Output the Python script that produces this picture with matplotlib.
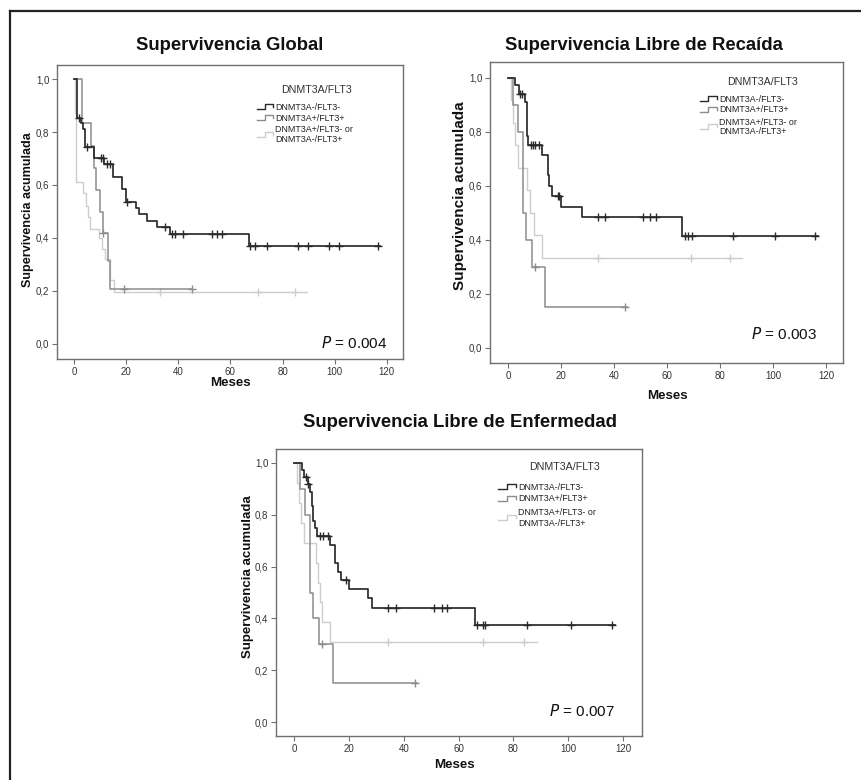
import numpy as np
import matplotlib
matplotlib.use("Agg")
import matplotlib.pyplot as plt
from matplotlib.lines import Line2D

plt.rcParams['font.family'] = ['Liberation Sans', 'DejaVu Sans']

# ---------------- DATA ----------------
group_labels = ["DNMT3A-/FLT3-", "DNMT3A+/FLT3+", "DNMT3A+/FLT3- or\nDNMT3A-/FLT3+"]
legend_title = "DNMT3A/FLT3"
panel_titles = ["Supervivencia Global", "Supervivencia Libre de Recaída",
                "Supervivencia Libre de Enfermedad"]
p_values = ["0.004", "0.003", "0.007"]
x_ticks = [0, 20, 40, 60, 80, 100, 120]
y_ticks = [0.0, 0.2, 0.4, 0.6, 0.8, 1.0]
y_tick_labels = ["0,0", "0,2", "0,4", "0,6", "0,8", "1,0"]

# Global survival
g_black_t = [0, 1.3, 2.6, 3.6, 4.2, 7.8, 11.5, 15.0, 18.3, 19.9, 23.8, 24.8, 28.1, 31.8, 37.0, 67.0]
g_black_s = [1.0, 0.853, 0.834, 0.812, 0.742, 0.700, 0.679, 0.631, 0.585, 0.537, 0.514, 0.489, 0.464, 0.440, 0.415, 0.368]
g_black_end = 117.4
g_black_c = [1.9, 5.1, 10.2, 11.3, 12.8, 14.0, 20.2, 34.9, 37.7, 38.7, 41.7, 52.8, 54.7, 56.9,
             67.5, 69.4, 73.9, 85.8, 89.9, 97.8, 101.7, 116.5]

g_mid_t = [0, 3.2, 6.4, 7.6, 8.5, 9.8, 11.1, 13.1, 14.0]
g_mid_s = [1.0, 0.835, 0.747, 0.665, 0.581, 0.499, 0.418, 0.3125, 0.208]
g_mid_end = 45.1
g_mid_c = [11.1, 19.2, 45.1]

g_light_t = [0, 0.4, 0.9, 3.3, 4.6, 5.5, 6.2, 9.7, 10.6, 12.0, 14.0, 15.5]
g_light_s = [1.0, 0.87, 0.613, 0.57, 0.52, 0.48, 0.435, 0.40, 0.36, 0.32, 0.24, 0.195]
g_light_end = 89.3
g_light_c = [33.0, 70.7, 84.8]

# Relapse-free survival
r_black_t = [0, 2.6, 4.0, 6.5, 7.0, 7.6, 12.8, 14.9, 15.6, 16.6, 20.0, 27.9, 65.7]
r_black_s = [1.0, 0.975, 0.94, 0.91, 0.785, 0.75, 0.715, 0.64, 0.60, 0.563, 0.523, 0.484, 0.415]
r_black_end = 116.9
r_black_c = [4.4, 5.3, 8.5, 9.6, 10.1, 11.8, 18.7, 19.4, 34.0, 36.7, 50.8, 53.7, 55.7,
             66.6, 68.1, 69.3, 84.8, 100.6, 116.0]

r_mid_t = [0, 1.9, 3.9, 5.8, 6.8, 8.9, 14.0]
r_mid_s = [1.0, 0.9, 0.8, 0.5, 0.4, 0.3, 0.15]
r_mid_end = 44.9
r_mid_c = [10.0, 44.2]

r_light_t = [0, 1.0, 1.7, 2.6, 3.6, 7.3, 8.4, 9.8, 13.0]
r_light_s = [1.0, 0.917, 0.833, 0.75, 0.667, 0.583, 0.5, 0.417, 0.333]
r_light_end = 88.2
r_light_c = [34.0, 69.0, 83.9]

# Disease-free survival
d_black_t = [0, 2.9, 3.6, 4.9, 5.8, 6.4, 6.8, 7.6, 8.3, 13.1, 15.1, 16.0, 17.2, 20.1, 27.1, 28.3, 66.0]
d_black_s = [1.0, 0.974, 0.947, 0.92, 0.889, 0.833, 0.775, 0.748, 0.718, 0.683, 0.613, 0.58,
             0.548, 0.512, 0.478, 0.439, 0.375]
d_black_end = 117.0
d_black_c = [4.3, 5.2, 9.4, 10.7, 12.2, 18.9, 34.1, 37.2, 51.1, 53.8, 55.9, 66.8, 69.0, 69.8,
             85.0, 100.9, 116.1]

d_mid_t = [0, 2.0, 3.9, 5.8, 6.9, 9.1, 14.1]
d_mid_s = [1.0, 0.9, 0.8, 0.5, 0.4, 0.3, 0.15]
d_mid_end = 44.7
d_mid_c = [10.0, 44.1]

d_light_t = [0, 1.0, 1.8, 2.7, 3.6, 7.9, 8.8, 9.3, 10.0, 13.1]
d_light_s = [1.0, 0.923, 0.846, 0.769, 0.692, 0.615, 0.538, 0.462, 0.385, 0.308]
d_light_end = 88.7
d_light_c = [34.1, 69.0, 83.9]

panels = [
    [(g_black_t, g_black_s, g_black_end, g_black_c),
     (g_mid_t, g_mid_s, g_mid_end, g_mid_c),
     (g_light_t, g_light_s, g_light_end, g_light_c)],
    [(r_black_t, r_black_s, r_black_end, r_black_c),
     (r_mid_t, r_mid_s, r_mid_end, r_mid_c),
     (r_light_t, r_light_s, r_light_end, r_light_c)],
    [(d_black_t, d_black_s, d_black_end, d_black_c),
     (d_mid_t, d_mid_s, d_mid_end, d_mid_c),
     (d_light_t, d_light_s, d_light_end, d_light_c)],
]

# ---------------- STYLE / LAYOUT ----------------
W, H = 861, 780
colors = ["#2a2a2a", "#8c8c8c", "#cdcdcd"]
lws = [1.25, 1.1, 1.0]
spine_col = "#707070"

# axes boxes in pixels: left, right, top, bottom
boxes = [(57, 403, 65, 359), (490, 843, 62, 363), (276, 642, 449, 736)]
xlims = [(-6.5, 126.2), (-6.8, 126.4), (-6.6, 126.9)]
ylims = [(-0.057, 1.053), (-0.056, 1.059), (-0.054, 1.054)]
title_pos = [(230, 45), (644, 45), (460, 423)]
ylab_pos = [(28, 210), (460, 196), (248, 577)]
ylab_size = [9.1, 11.0, 9.5]
xlab_pos = [(230, 383), (667, 396), (454, 765)]
leg_title_xy = [(0.751, 0.915), (0.773, 0.934), (0.788, 0.937)]
leg_sym_x = [(0.578, 0.627), (0.595, 0.646), (0.607, 0.658)]
leg_text_x = [0.630, 0.649, 0.661]
leg_y = [(0.856, 0.819, 0.779, 0.745), (0.877, 0.841, 0.800, 0.770), (0.867, 0.826, 0.779, 0.741)]
p_xy = [(0.954, 0.054), (0.926, 0.096), (0.926, 0.088)]

fig = plt.figure(figsize=(W / 100, H / 100), dpi=100)
fig.patch.set_facecolor("white")


def step_value(t, s, x):
    i = np.searchsorted(t, x, side="right") - 1
    return np.asarray(s)[i]


for k, (L, R, T, B) in enumerate(boxes):
    ax = fig.add_axes([L / W, (H - B) / H, (R - L) / W, (B - T) / H])
    for gi, (t, s, end, cens) in enumerate(panels[k]):
        t = np.asarray(t, float)
        s = np.asarray(s, float)
        xs = np.append(t, end)
        ys = np.append(s, s[-1])
        ax.step(xs, ys, where="post", color=colors[gi], lw=lws[gi], zorder=3 - gi)
        cy = step_value(t, s, np.asarray(cens))
        ax.plot(cens, cy, ls="none", marker="+", ms=6, mew=1.0, color=colors[gi], zorder=3 - gi)

    ax.set_xlim(*xlims[k])
    ax.set_ylim(*ylims[k])
    ax.set_xticks(x_ticks)
    ax.set_xticklabels([str(v) for v in x_ticks])
    ax.set_yticks(y_ticks)
    ax.set_yticklabels(y_tick_labels)
    ax.tick_params(direction="out", length=3.5, width=0.8, color=spine_col,
                   labelsize=7, labelcolor="#333333", pad=2)
    for sp in ax.spines.values():
        sp.set_color(spine_col)
        sp.set_linewidth(1.0)

    # legend (manual, SPSS style)
    tx, ty = leg_title_xy[k]
    ax.text(tx, ty, legend_title, transform=ax.transAxes, ha="center", va="center",
            fontsize=7.7, color="#333333")
    x0, x1 = leg_sym_x[k]
    ys_ = leg_y[k]
    sym_y = [ys_[0], ys_[1], (ys_[2] + ys_[3]) / 2]
    for gi in range(3):
        yc = sym_y[gi]
        xm = x0 + 0.45 * (x1 - x0)
        xr = x0 + 0.97 * (x1 - x0)
        ax.plot([x0, xm, xm, xr, xr], [yc - 0.006, yc - 0.006, yc + 0.01, yc + 0.01, yc + 0.0],
                transform=ax.transAxes, color=colors[gi], lw=1.0, clip_on=False)
    xt = leg_text_x[k]
    ax.text(xt, ys_[0], group_labels[0], transform=ax.transAxes, ha="left", va="center",
            fontsize=6.4, color="#222222")
    ax.text(xt, ys_[1], group_labels[1], transform=ax.transAxes, ha="left", va="center",
            fontsize=6.4, color="#222222")
    ax.text(xt, ys_[2], group_labels[2].split("\n")[0], transform=ax.transAxes, ha="left",
            va="center", fontsize=6.4, color="#222222")
    ax.text(xt, ys_[3], group_labels[2].split("\n")[1], transform=ax.transAxes, ha="left",
            va="center", fontsize=6.4, color="#222222")

    px, py = p_xy[k]
    ax.text(px, py, r"$\mathit{P}$" + " = " + p_values[k], transform=ax.transAxes,
            ha="right", va="center", fontsize=11, color="#111111")

    # titles and labels at pixel positions
    tx_, ty_ = title_pos[k]
    fig.text(tx_ / W, 1 - ty_ / H, panel_titles[k], ha="center", va="center",
             fontsize=13.3, fontweight="bold", color="#111111")
    lx, ly = ylab_pos[k]
    fig.text(lx / W, 1 - ly / H, "Supervivencia acumulada", rotation=90, ha="center",
             va="center", fontsize=ylab_size[k], fontweight="bold", color="#111111")
    mx, my = xlab_pos[k]
    fig.text(mx / W, 1 - my / H, "Meses", ha="center", va="center", fontsize=9.6,
             fontweight="bold", color="#111111")

# outer frame lines (top and left)
fig.add_artist(Line2D([10 / W, 1.0], [1 - 11 / H, 1 - 11 / H], transform=fig.transFigure,
                      color="#222222", lw=1.6))
fig.add_artist(Line2D([10 / W, 10 / W], [0.0, 1 - 11 / H], transform=fig.transFigure,
                      color="#222222", lw=1.6))

fig.savefig("out.png", dpi=100, facecolor="white")
